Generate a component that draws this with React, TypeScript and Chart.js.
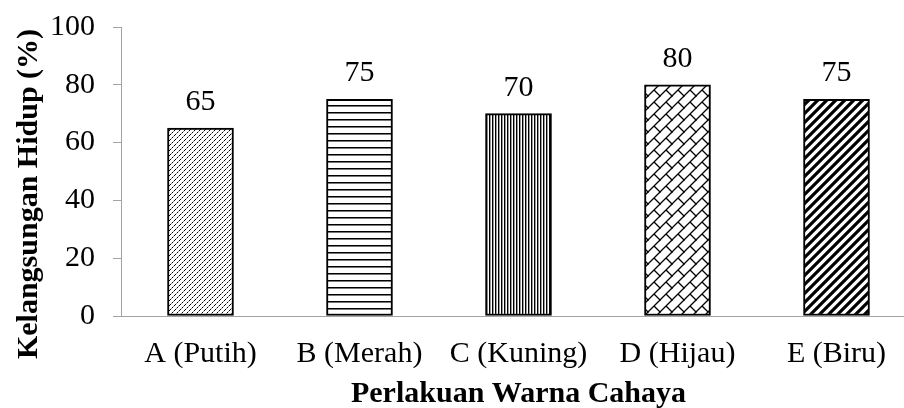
import React, { useEffect, useRef } from 'react';
import { Chart, registerables } from 'chart.js';

Chart.register(...registerables);

const categories = ['A (Putih)', 'B (Merah)', 'C (Kuning)', 'D (Hijau)', 'E (Biru)'];
const survival = [65, 75, 70, 80, 75];
const yTickMin = 0;
const yTickMax = 100;
const yTickStep = 20;
const xTitle = 'Perlakuan Warna Cahaya';
const yTitle = 'Kelangsungan Hidup (%)';

const FONT = "'Liberation Serif', 'Times New Roman', serif";
const AXIS_GRAY = '#a3a3a3';

function makePattern(w: number, h: number, draw: (g: CanvasRenderingContext2D) => void): CanvasPattern | string {
  const c = document.createElement('canvas');
  c.width = w;
  c.height = h;
  const g = c.getContext('2d');
  if (!g) return '#fff';
  g.fillStyle = '#fff';
  g.fillRect(0, 0, w, h);
  draw(g);
  return g.createPattern(c, 'repeat') || '#fff';
}

function diagLines(g: CanvasRenderingContext2D, size: number, width: number) {
  g.strokeStyle = '#000';
  g.lineWidth = width;
  g.beginPath();
  for (const k of [0, size, 2 * size]) {
    g.moveTo(k + 3, -3);
    g.lineTo(-3, k + 3);
  }
  g.stroke();
}

function buildPatterns() {
  const a = makePattern(5, 5, (g) => {
    for (let i = 0; i < 5; i++) {
      g.fillStyle = i % 2 ? '#8a8a8a' : '#000';
      g.fillRect(i, 4 - i, 1, 1);
    }
  });
  const b = makePattern(4, 7, (g) => {
    g.fillStyle = '#000';
    g.fillRect(0, 0, 4, 1);
    g.fillStyle = '#777';
    g.fillRect(0, 1, 4, 1);
  });
  const c = makePattern(3, 4, (g) => {
    g.fillStyle = '#000';
    g.fillRect(0, 0, 1, 4);
    g.fillStyle = '#9a9a9a';
    g.fillRect(1, 0, 1, 4);
  });
  const d = makePattern(12, 12, (g) => {
    diagLines(g, 12, 1.3);
    g.lineWidth = 1.3;
    g.beginPath();
    g.moveTo(6, 6);
    g.lineTo(13, 13);
    g.moveTo(-1, -1);
    g.lineTo(0.5, 0.5);
    g.stroke();
  });
  const e = makePattern(9, 9, (g) => {
    diagLines(g, 9, 3.2);
  });
  return [a, b, c, d, e];
}

const labelPlugin = {
  id: 'valueLabels',
  afterDatasetsDraw(chart: any) {
    const ctx = chart.ctx;
    const meta = chart.getDatasetMeta(0);
    ctx.save();
    ctx.fillStyle = '#000';
    ctx.font = `30px ${FONT}`;
    ctx.textAlign = 'center';
    ctx.textBaseline = 'alphabetic';
    meta.data.forEach((bar: any, i: number) => {
      ctx.fillText(String(survival[i]), bar.x, bar.y - 18);
    });
    ctx.restore();
  },
};

const titlePlugin = {
  id: 'axisTitles',
  afterDraw(chart: any) {
    const ctx = chart.ctx;
    const area = chart.chartArea;
    ctx.save();
    ctx.fillStyle = '#000';
    ctx.font = `bold 30px ${FONT}`;
    ctx.textAlign = 'center';
    ctx.textBaseline = 'alphabetic';
    ctx.fillText(xTitle, (area.left + area.right) / 2, chart.height - 6);
    ctx.translate(37, 194);
    ctx.rotate(-Math.PI / 2);
    ctx.fillText(yTitle, 0, 0);
    ctx.restore();
  },
};

export default function App() {
  const ref = useRef<HTMLCanvasElement | null>(null);

  useEffect(() => {
    if (!ref.current) return;
    const patterns = buildPatterns();
    const chart = new Chart(ref.current, {
      type: 'bar',
      data: {
        labels: categories,
        datasets: [
          {
            data: survival,
            backgroundColor: patterns as any,
            borderColor: '#000',
            borderWidth: 2,
            borderSkipped: false,
            barThickness: 66,
          },
        ],
      },
      options: {
        responsive: false,
        animation: false,
        devicePixelRatio: 1,
        layout: { padding: { top: 27, left: 0, right: 0, bottom: 0 } },
        plugins: {
          legend: { display: false },
          tooltip: { enabled: false },
        },
        scales: {
          x: {
            grid: { display: true, drawOnChartArea: false, drawTicks: false },
            border: { color: AXIS_GRAY, width: 1 },
            ticks: {
              color: '#000',
              font: { family: FONT, size: 30 },
              padding: 20,
              maxRotation: 0,
              autoSkip: false,
            },
            afterFit: (s: any) => {
              s.height = 92;
              s.paddingLeft = 0;
              s.paddingRight = 0;
            },
          },
          y: {
            min: yTickMin,
            max: yTickMax,
            grid: { drawOnChartArea: false, drawTicks: true, tickLength: 8, color: AXIS_GRAY },
            border: { color: AXIS_GRAY, width: 1 },
            ticks: {
              stepSize: yTickStep,
              color: '#000',
              font: { family: FONT, size: 30 },
              padding: 18,
            },
            afterFit: (s: any) => {
              s.width = 121;
              s.paddingTop = 0;
              s.paddingBottom = 0;
            },
          },
        },
      },
      plugins: [labelPlugin, titlePlugin],
    });
    return () => chart.destroy();
  }, []);

  return (
    <div style={{ position: 'fixed', left: 0, top: 0, width: 904, height: 408, overflow: 'hidden', background: '#fff' }}>
      <canvas ref={ref} width={916} height={408} style={{ width: 916, height: 408, display: 'block' }} />
    </div>
  );
}
